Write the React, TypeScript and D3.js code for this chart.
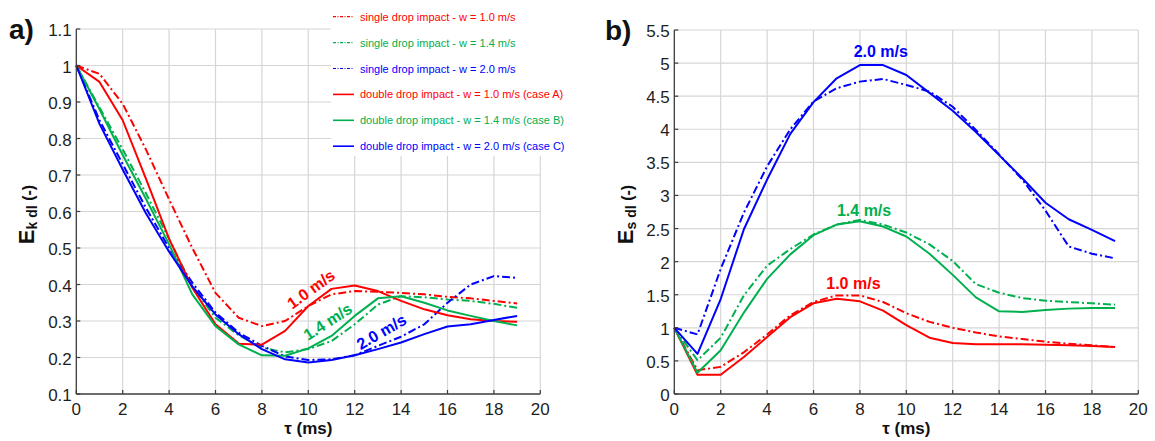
import React from "react";
import * as d3 from "d3";

// time axis (ms)
const tau = [0, 1, 2, 3, 4, 5, 6, 7, 8, 9, 10, 11, 12, 13, 14, 15, 16, 17, 18, 19];

// a) kinetic energy of the drop, normalised
const kSingle10 = [1.0, 0.977, 0.895, 0.77, 0.633, 0.5, 0.377, 0.309, 0.286, 0.3, 0.341, 0.373, 0.382, 0.38, 0.377, 0.373, 0.366, 0.362, 0.355, 0.348];
const kSingle14 = [1.0, 0.885, 0.77, 0.65, 0.525, 0.395, 0.309, 0.261, 0.227, 0.214, 0.223, 0.245, 0.291, 0.345, 0.368, 0.365, 0.359, 0.355, 0.347, 0.336];
const kSingle20 = [1.0, 0.85, 0.73, 0.61, 0.5, 0.405, 0.323, 0.268, 0.232, 0.203, 0.193, 0.195, 0.206, 0.232, 0.257, 0.291, 0.35, 0.4, 0.423, 0.418];
const kDouble10 = [1.0, 0.955, 0.85, 0.69, 0.525, 0.391, 0.291, 0.238, 0.235, 0.273, 0.341, 0.388, 0.397, 0.382, 0.355, 0.332, 0.316, 0.305, 0.3, 0.298];
const kDouble14 = [1.0, 0.88, 0.755, 0.635, 0.51, 0.373, 0.286, 0.236, 0.206, 0.205, 0.225, 0.259, 0.314, 0.362, 0.368, 0.35, 0.329, 0.314, 0.3, 0.288];
const kDouble20 = [1.0, 0.84, 0.715, 0.595, 0.49, 0.395, 0.318, 0.264, 0.223, 0.195, 0.186, 0.193, 0.206, 0.223, 0.241, 0.264, 0.285, 0.291, 0.303, 0.314];

// b) surface energy of the drop, normalised
const sSingle10 = [1.0, 0.36, 0.41, 0.63, 0.9, 1.19, 1.39, 1.49, 1.49, 1.39, 1.22, 1.09, 1.0, 0.93, 0.87, 0.83, 0.79, 0.76, 0.735, 0.71];
const sSingle14 = [1.0, 0.51, 0.85, 1.49, 1.94, 2.19, 2.41, 2.56, 2.63, 2.56, 2.44, 2.26, 2.01, 1.66, 1.53, 1.45, 1.41, 1.39, 1.37, 1.35];
const sSingle20 = [1.0, 0.9, 1.89, 2.74, 3.44, 4.0, 4.42, 4.62, 4.72, 4.76, 4.67, 4.57, 4.34, 3.99, 3.62, 3.24, 2.77, 2.23, 2.12, 2.05];
const sDouble10 = [1.0, 0.29, 0.29, 0.56, 0.86, 1.16, 1.37, 1.44, 1.4, 1.26, 1.04, 0.85, 0.77, 0.75, 0.75, 0.75, 0.745, 0.735, 0.725, 0.71];
const sDouble14 = [1.0, 0.32, 0.66, 1.23, 1.74, 2.11, 2.4, 2.56, 2.61, 2.53, 2.38, 2.12, 1.8, 1.46, 1.25, 1.24, 1.27, 1.29, 1.3, 1.3];
const sDouble20 = [1.0, 0.607, 1.435, 2.49, 3.24, 3.93, 4.41, 4.77, 4.97, 4.97, 4.82, 4.55, 4.28, 3.96, 3.61, 3.26, 2.89, 2.64, 2.48, 2.31];

const xTicks = [0, 2, 4, 6, 8, 10, 12, 14, 16, 18, 20];
const kTicks = [0.1, 0.2, 0.3, 0.4, 0.5, 0.6, 0.7, 0.8, 0.9, 1, 1.1];
const sTicks = [0, 0.5, 1, 1.5, 2, 2.5, 3, 3.5, 4, 4.5, 5, 5.5];

const legendLabels = [
  "single drop impact - w = 1.0 m/s",
  "single drop impact - w = 1.4 m/s",
  "single drop impact - w = 2.0 m/s",
  "double drop impact - w = 1.0 m/s (case A)",
  "double drop impact - w = 1.4 m/s (case B)",
  "double drop impact - w = 2.0 m/s (case C)",
];
const speedLabels = ["1.0 m/s", "1.4 m/s", "2.0 m/s"];

const RED = "#ff0000";
const GREEN = "#00b04f";
const BLUE = "#0000ff";
const DASHDOT = "8,3,2,3";
const GRID = "#d6d6d6";
const AXIS = "#3c3c3c";
const TEXT = "#1e1e1e";
const FONT = "'Liberation Sans', Arial, sans-serif";

type Series = { values: number[]; color: string; dash: string | null };

const kSeries: Series[] = [
  { values: kSingle10, color: RED, dash: DASHDOT },
  { values: kSingle14, color: GREEN, dash: DASHDOT },
  { values: kSingle20, color: BLUE, dash: DASHDOT },
  { values: kDouble10, color: RED, dash: null },
  { values: kDouble14, color: GREEN, dash: null },
  { values: kDouble20, color: BLUE, dash: null },
];
const sSeries: Series[] = [
  { values: sSingle10, color: RED, dash: DASHDOT },
  { values: sSingle14, color: GREEN, dash: DASHDOT },
  { values: sSingle20, color: BLUE, dash: DASHDOT },
  { values: sDouble10, color: RED, dash: null },
  { values: sDouble14, color: GREEN, dash: null },
  { values: sDouble20, color: BLUE, dash: null },
];

type PanelProps = {
  x0: number;
  x1: number;
  yTop: number;
  yBottom: number;
  yDomain: [number, number];
  yTicks: number[];
  series: Series[];
  tickFmt: (v: number) => string;
  children?: (x: d3.ScaleLinear<number, number>, y: d3.ScaleLinear<number, number>) => React.ReactNode;
  legendMask?: { x: number; y: number; w: number; h: number };
};

function Panel({ x0, x1, yTop, yBottom, yDomain, yTicks, series, tickFmt, children, legendMask }: PanelProps) {
  const x = d3.scaleLinear().domain([0, 20]).range([x0, x1]);
  const y = d3.scaleLinear().domain(yDomain).range([yBottom, yTop]);
  const line = d3
    .line<number>()
    .x((_, i) => x(tau[i]))
    .y((v) => y(v));
  return (
    <g>
      {/* grid */}
      {xTicks.slice(1).map((t) => (
        <line key={"gx" + t} x1={x(t)} x2={x(t)} y1={yTop} y2={yBottom} stroke={GRID} strokeWidth={1.2} />
      ))}
      {yTicks.slice(1).map((t) => (
        <line key={"gy" + t} x1={x0} x2={x1} y1={y(t)} y2={y(t)} stroke={GRID} strokeWidth={1.2} />
      ))}
      {/* curves */}
      {series.map((s, i) => (
        <path
          key={"s" + i}
          d={line(s.values) || ""}
          fill="none"
          stroke={s.color}
          strokeWidth={2}
          strokeDasharray={s.dash || undefined}
          strokeLinejoin="round"
        />
      ))}
      {legendMask && (
        <rect x={legendMask.x} y={legendMask.y} width={legendMask.w} height={legendMask.h} fill="#fff" />
      )}
      {/* axes */}
      <line x1={x0} x2={x0} y1={yTop} y2={yBottom} stroke={AXIS} strokeWidth={1.3} />
      <line x1={x0} x2={x1} y1={yBottom} y2={yBottom} stroke={AXIS} strokeWidth={1.3} />
      {xTicks.map((t) => (
        <g key={"tx" + t}>
          <line x1={x(t)} x2={x(t)} y1={yBottom} y2={yBottom - 4} stroke={AXIS} strokeWidth={1.2} />
          <text x={x(t)} y={yBottom + 21} textAnchor="middle" fontSize={17} fontFamily={FONT} fill={TEXT}>
            {t}
          </text>
        </g>
      ))}
      {yTicks.map((t) => (
        <g key={"ty" + t}>
          <line x1={x0} x2={x0 + 4} y1={y(t)} y2={y(t)} stroke={AXIS} strokeWidth={1.2} />
          <text x={x0 - 4.5} y={y(t) + 7} textAnchor="end" fontSize={17} fontFamily={FONT} fill={TEXT}>
            {tickFmt(t)}
          </text>
        </g>
      ))}
      {children && children(x, y)}
    </g>
  );
}

export default function App() {
  const fmtK = (v: number) => (v === 1 ? "1" : d3.format(".1f")(v));
  const fmtS = (v: number) => (Number.isInteger(v) ? String(v) : d3.format(".1f")(v));
  const legendColors = [RED, GREEN, BLUE, RED, GREEN, BLUE];
  return (
    <svg
      width={1155}
      height={441}
      style={{ position: "absolute", left: 0, top: 0, background: "#fff" }}
      fontFamily={FONT}
    >
      <rect width={1155} height={441} fill="#fff" />

      {/* panel a */}
      <Panel
        x0={76.3}
        x1={540.3}
        yTop={29}
        yBottom={394}
        yDomain={[0.1, 1.1]}
        yTicks={kTicks}
        series={kSeries}
        tickFmt={fmtK}
        legendMask={{ x: 331, y: 0, w: 245, h: 156 }}
      >
        {(x, y) => (
          <g fontWeight="bold" fontSize={16}>
            <text transform={`translate(${x(10.12)},${y(0.387)}) rotate(-36)`} textAnchor="middle" dominantBaseline="central" fill={RED}>
              {speedLabels[0]}
            </text>
            <text transform={`translate(${x(10.84)},${y(0.298)}) rotate(-33)`} textAnchor="middle" dominantBaseline="central" fill={GREEN}>
              {speedLabels[1]}
            </text>
            <text transform={`translate(${x(13.15)},${y(0.27)}) rotate(-30)`} textAnchor="middle" dominantBaseline="central" fill={BLUE}>
              {speedLabels[2]}
            </text>
          </g>
        )}
      </Panel>

      {/* legend of panel a */}
      {legendLabels.map((label, i) => {
        const cy = 16.7 + i * 25.9;
        return (
          <g key={"lg" + i}>
            <line
              x1={333}
              x2={354}
              y1={cy}
              y2={cy}
              stroke={legendColors[i]}
              strokeWidth={i < 3 ? 1.2 : 1.6}
              strokeDasharray={i < 3 ? "3,1.5,1,1.5" : undefined}
            />
            <text x={360} y={cy + 4} fontSize={11} fill={legendColors[i]}>
              {label}
            </text>
          </g>
        );
      })}

      {/* panel b */}
      <Panel
        x0={674.3}
        x1={1138.3}
        yTop={30}
        yBottom={394}
        yDomain={[0, 5.5]}
        yTicks={sTicks}
        series={sSeries}
        tickFmt={fmtS}
      >
        {(x, y) => (
          <g fontWeight="bold" fontSize={16} textAnchor="middle" dominantBaseline="central">
            <text x={x(8.9)} y={y(5.17)} fill={BLUE}>
              {speedLabels[2]}
            </text>
            <text x={x(8.18)} y={y(2.77)} fill={GREEN}>
              {speedLabels[1]}
            </text>
            <text x={x(7.72)} y={y(1.67)} fill={RED}>
              {speedLabels[0]}
            </text>
          </g>
        )}
      </Panel>

      {/* panel letters */}
      <text x={9} y={39} fontSize={28} fontWeight="bold" fill="#111">a)</text>
      <text x={605} y={40} fontSize={28} fontWeight="bold" fill="#111">b)</text>

      {/* axis titles */}
      <g fontWeight="bold" fill="#111">
        <text x={308.3} y={434} fontSize={17} textAnchor="middle">τ (ms)</text>
        <text x={906.3} y={434} fontSize={17} textAnchor="middle">τ (ms)</text>
        <text transform="translate(34,214.5) rotate(-90)" fontSize={22} textAnchor="middle">
          E<tspan fontSize={14} dy={3}>k dl</tspan>
          <tspan fontSize={16} dy={-3}> (-)</tspan>
        </text>
        <text transform="translate(632.5,214.5) rotate(-90)" fontSize={22} textAnchor="middle">
          E<tspan fontSize={14} dy={3}>s dl</tspan>
          <tspan fontSize={16} dy={-3}> (-)</tspan>
        </text>
      </g>
    </svg>
  );
}
